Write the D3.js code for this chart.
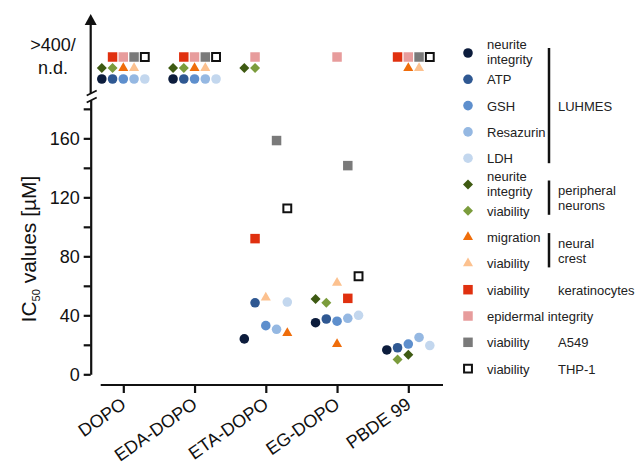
<!DOCTYPE html>
<html>
<head>
<meta charset="utf-8">
<script src="https://cdn.jsdelivr.net/npm/d3@7"></script>
<style>
  body { margin: 0; background: #fff; }
  svg { font-family: "Liberation Sans", Arial, sans-serif; }
</style>
</head>
<body>
<div class="chart"></div>
<script>
// compounds on the x axis
var categories = ["DOPO", "EDA-DOPO", "ETA-DOPO", "EG-DOPO", "PBDE 99"];
var yTicks = [0, 20, 40, 60, 80, 100, 120, 140, 160, 180];
var ndLabel = [">400/", "n.d."];

// endpoints (null = >400 / n.d.)
var endpoints = ["neurite integrity", "ATP", "GSH", "Resazurin", "LDH",
  "PN neurite integrity", "PN viability", "migration", "NC viability",
  "keratinocyte viability", "epidermal integrity", "A549 viability", "THP-1 viability"];
var shapes = ["circle", "circle", "circle", "circle", "circle",
  "diamond", "diamond", "triangle", "triangle",
  "square", "square", "square", "open"];
var colors = ["#0c1c3c", "#2f5892", "#5e8fcd", "#95b8e2", "#c3d7ee",
  "#3e5a12", "#7b9c3c", "#ef6d0b", "#fcc18f",
  "#e0300f", "#e79c9c", "#7a7a7a", "#ffffff"];

// IC50 per endpoint, one per compound
var values = [
  [null, null, 24, 35, 16.5],
  [null, null, 48.5, 37.5, 18],
  [null, null, 33, 36, 20.5],
  [null, null, 30.5, 38, 25],
  [null, null, 49, 40, 19.5],
  [null, null, null, 51, 13.3],
  [null, null, null, 48.5, 10],
  [null, null, 28, 20.5, null],
  [null, null, 52, 62, null],
  [null, null, 92, 51.5, null],
  [null, null, null, null, null],
  [null, null, 158.5, 141.5, null],
  [null, null, 112.5, 66.5, null]
];
// column slot inside each compound group
var slots = [
  [-2, -2, -2, -2, -2],
  [-1, -1, -1, -1, -1],
  [0, 0, 0, 0, 0],
  [1, 1, 1, 1, 1],
  [2, 2, 2, 2, 2],
  [-2, -2, -2, -2, 0],
  [-1, -1, -1, -1, -1],
  [0, 0, 2, 0, 0],
  [1, 1, 0, 0, 1],
  [-1, -1, -1, 1, -1],
  [0, 0, -1, 0, 0],
  [1, 1, 1, 1, 1],
  [2, 2, 2, 2, 2]
];

// legend rows
var legendLabels = [["neurite", "integrity"], ["ATP"], ["GSH"], ["Resazurin"], ["LDH"],
  ["neurite", "integrity"], ["viability"], ["migration"], ["viability"],
  ["viability"], ["epidermal integrity"], ["viability"], ["viability"]];
var groups = [
  {lines: ["LUHMES"], from: 0, to: 4, bar: true},
  {lines: ["peripheral", "neurons"], from: 5, to: 6, bar: true},
  {lines: ["neural", "crest"], from: 7, to: 8, bar: true},
  {lines: ["keratinocytes"], from: 9, to: 9, bar: false},
  {lines: ["A549"], from: 11, to: 11, bar: false},
  {lines: ["THP-1"], from: 12, to: 12, bar: false}
];

var W = 638, H = 467;
var svg = d3.select(".chart").append("svg").attr("width", W).attr("height", H);

var axisX = 90.7;
var y = d3.scaleLinear().domain([0, 186]).range([374.3, 100]);
var x = d3.scalePoint().domain(categories).range([123.3, 408.3]);
var slotX = d3.scaleLinear().domain([-2, 2]).range([-21.5, 21.5]);
var ndRow = d3.scalePoint().domain(["square", "mid", "circle"]).range([57, 79]);

function symbolPath(shape) {
  if (shape == "circle") return d3.symbol(d3.symbolCircle, 72)();
  if (shape == "triangle") return d3.symbol(d3.symbolTriangle, 44)();
  if (shape == "diamond") return d3.symbol(d3.symbolSquare, 50)();
  if (shape == "open") return d3.symbol(d3.symbolSquare, 62)();
  return d3.symbol(d3.symbolSquare, 90)();
}
function drawMark(sel, i) {
  var p = sel.append("path").attr("d", symbolPath(shapes[i]));
  if (shapes[i] == "open") {
    p.attr("fill", "#fff").attr("stroke", "#111").attr("stroke-width", 2);
  } else {
    p.attr("fill", colors[i]);
  }
  if (shapes[i] == "diamond") p.attr("transform", "rotate(45)");
  return p;
}

// y axis, lower part
var yAxis = d3.axisLeft(y).tickValues(yTicks).tickSize(7).tickSizeOuter(0)
  .tickFormat(function(d){ return (d % 40 == 0 && d <= 160) ? d : ""; });
var gy = svg.append("g").attr("transform", "translate(" + axisX + ",0)").call(yAxis);
gy.select(".domain").attr("stroke", "#111").attr("stroke-width", 2.2);
gy.selectAll(".tick line").attr("stroke", "#111").attr("stroke-width", 2.2);
gy.selectAll(".tick text").attr("font-size", 18).attr("fill", "#111")
  .attr("x", -11).attr("font-family", "Liberation Sans, Arial, sans-serif");

// y axis, upper part with arrow and break
svg.append("line").attr("x1", axisX).attr("x2", axisX).attr("y1", 93).attr("y2", 22)
  .attr("stroke", "#111").attr("stroke-width", 2.2);
svg.append("path").attr("d", "M" + axisX + ",14 L" + (axisX + 6) + ",25 L" + (axisX - 6) + ",25 Z")
  .attr("fill", "#111");
[0, 7].forEach(function(o){
  svg.append("line").attr("x1", axisX - 4).attr("y1", 95.5 + o).attr("x2", axisX + 6).attr("y2", 90.5 + o)
    .attr("stroke", "#111").attr("stroke-width", 1.8);
});
svg.append("text").attr("font-size", 18).attr("fill", "#111").attr("text-anchor", "middle")
  .selectAll("tspan").data(ndLabel).enter().append("tspan")
  .attr("x", 53).attr("y", function(d, i){ return 51 + i * 23; })
  .text(function(d){ return d; });

// y title
var yt = svg.append("text").attr("transform", "translate(36,249) rotate(-90)")
  .attr("text-anchor", "middle").attr("font-size", 21).attr("fill", "#111");
yt.append("tspan").text("IC");
yt.append("tspan").attr("font-size", 11).attr("dy", 4).text("50");
yt.append("tspan").attr("dy", -4).text(" values [µM]");

// x axis
var xAxis = d3.axisBottom(x).tickSize(8).tickSizeOuter(0).tickFormat("");
var gx = svg.append("g").attr("transform", "translate(0,385)").call(xAxis);
gx.select(".domain").remove();
gx.selectAll(".tick line").attr("stroke", "#111").attr("stroke-width", 2.2);
gx.append("line").attr("x1", 100.7).attr("x2", 443).attr("stroke", "#111").attr("stroke-width", 2.2);
svg.selectAll(".xlab").data(categories).enter().append("text")
  .attr("class", "xlab").attr("font-size", 18).attr("fill", "#111").attr("text-anchor", "end")
  .attr("transform", function(d){ return "translate(" + (x(d) + 4) + ",407) rotate(-35)"; })
  .text(function(d){ return d; });

// points
var pts = [];
values.forEach(function(row, i){
  row.forEach(function(v, j){
    pts.push({e: i, c: j, v: v, s: slots[i][j]});
  });
});
pts.forEach(function(p){
  var px = x(categories[p.c]) + slotX(p.s);
  var row = shapes[p.e] == "circle" ? "circle" : (shapes[p.e] == "diamond" || shapes[p.e] == "triangle") ? "mid" : "square";
  var py = p.v == null ? ndRow(row) : y(p.v);
  var g = svg.append("g").attr("transform", "translate(" + px + "," + py + ")");
  drawMark(g, p.e);
});

// legend
var legY = d3.scaleLinear().domain([0, 12]).range([53, 368.6]);
endpoints.forEach(function(name, i){
  var g = svg.append("g").attr("transform", "translate(468," + legY(i) + ")");
  drawMark(g, i);
  var lines = legendLabels[i];
  svg.append("text").attr("font-size", 13).attr("fill", "#222")
    .selectAll("tspan").data(lines).enter().append("tspan")
    .attr("x", 487)
    .attr("y", function(d, k){ return legY(i) + 5 + (k - (lines.length - 1) / 2) * 15 - (lines.length > 1 ? 1.5 : 0); })
    .text(function(d){ return d; });
});
groups.forEach(function(gr){
  var y0 = legY(gr.from), y1 = legY(gr.to), mid = (y0 + y1) / 2;
  if (gr.bar) {
    var pad = gr.from == 0 ? 5 : 4;
    svg.append("line").attr("x1", 549).attr("x2", 549)
      .attr("y1", y0 - pad).attr("y2", y1 + pad)
      .attr("stroke", "#111").attr("stroke-width", 2.5);
  }
  svg.append("text").attr("font-size", 13).attr("fill", "#222")
    .selectAll("tspan").data(gr.lines).enter().append("tspan")
    .attr("x", 558)
    .attr("y", function(d, k){ return mid + 5 + (k - (gr.lines.length - 1) / 2) * 15; })
    .text(function(d){ return d; });
});
</script>
</body>
</html>
